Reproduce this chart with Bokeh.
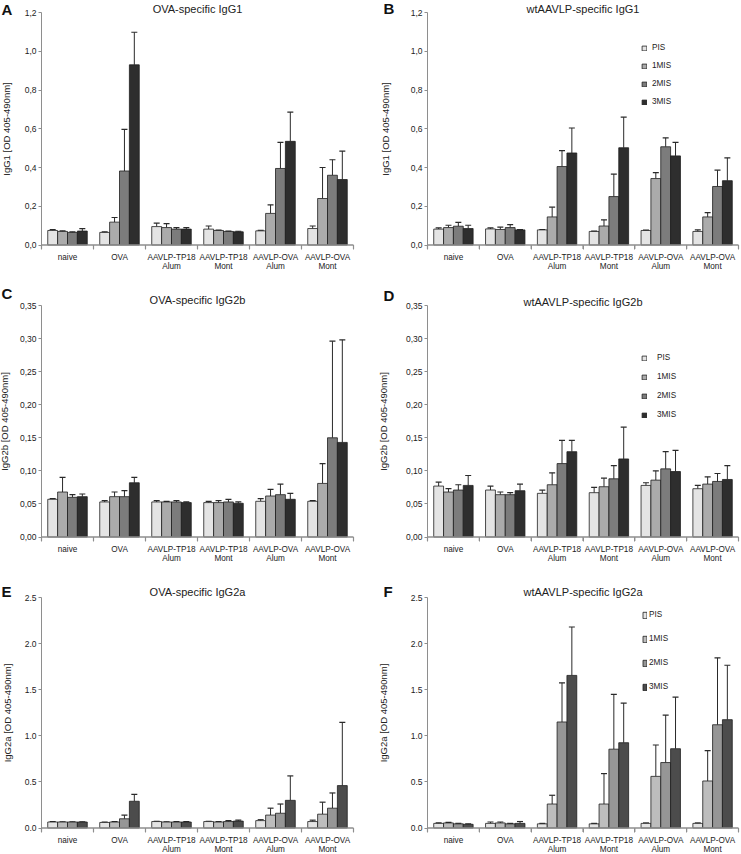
from bokeh.plotting import figure
from bokeh.models import (Range1d, FixedTicker, Label, Whisker, TeeHead,
                          ColumnDataSource, Legend, LegendItem)
from bokeh.layouts import column, row
from bokeh.embed import file_html
from bokeh.resources import INLINE

FONT = "Liberation Sans"

groups = ["naive", "OVA", "AAVLP-TP18\nAlum", "AAVLP-TP18\nMont",
          "AAVLP-OVA\nAlum", "AAVLP-OVA\nMont"]
series = ["PIS", "1MIS", "2MIS", "3MIS"]

# ---- Panel A : OVA-specific IgG1 ----
a_pis = [0.075, 0.065, 0.095, 0.082, 0.073, 0.085]
a_pis_err = [0.005, 0.003, 0.018, 0.016, 0.002, 0.013]
a_1mis = [0.070, 0.118, 0.090, 0.075, 0.163, 0.240]
a_1mis_err = [0.003, 0.024, 0.020, 0.002, 0.044, 0.160]
a_2mis = [0.065, 0.382, 0.082, 0.070, 0.395, 0.360]
a_2mis_err = [0.003, 0.215, 0.008, 0.002, 0.135, 0.080]
a_3mis = [0.072, 0.930, 0.082, 0.068, 0.535, 0.338]
a_3mis_err = [0.013, 0.168, 0.008, 0.003, 0.151, 0.147]

# ---- Panel B : wtAAVLP-specific IgG1 ----
b_pis = [0.082, 0.083, 0.078, 0.070, 0.075, 0.070]
b_pis_err = [0.006, 0.005, 0.002, 0.002, 0.002, 0.008]
b_1mis = [0.090, 0.080, 0.145, 0.098, 0.343, 0.145]
b_1mis_err = [0.012, 0.012, 0.050, 0.032, 0.031, 0.022]
b_2mis = [0.097, 0.090, 0.405, 0.250, 0.507, 0.302]
b_2mis_err = [0.020, 0.015, 0.082, 0.116, 0.046, 0.084]
b_3mis = [0.085, 0.078, 0.475, 0.502, 0.460, 0.332]
b_3mis_err = [0.017, 0.002, 0.129, 0.158, 0.070, 0.118]

# ---- Panel C : OVA-specific IgG2b ----
c_pis = [0.057, 0.053, 0.053, 0.052, 0.054, 0.054]
c_pis_err = [0.001, 0.002, 0.002, 0.002, 0.004, 0.001]
c_1mis = [0.068, 0.061, 0.053, 0.052, 0.062, 0.081]
c_1mis_err = [0.022, 0.007, 0.001, 0.003, 0.010, 0.030]
c_2mis = [0.060, 0.061, 0.053, 0.053, 0.064, 0.150]
c_2mis_err = [0.004, 0.009, 0.002, 0.004, 0.016, 0.146]
c_3mis = [0.061, 0.082, 0.052, 0.051, 0.057, 0.143]
c_3mis_err = [0.004, 0.008, 0.001, 0.002, 0.009, 0.155]

# ---- Panel D : wtAAVLP-specific IgG2b ----
d_pis = [0.077, 0.071, 0.066, 0.067, 0.078, 0.073]
d_pis_err = [0.006, 0.006, 0.005, 0.008, 0.004, 0.005]
d_1mis = [0.068, 0.064, 0.079, 0.076, 0.086, 0.080]
d_1mis_err = [0.005, 0.004, 0.018, 0.013, 0.014, 0.011]
d_2mis = [0.071, 0.064, 0.111, 0.088, 0.103, 0.084]
d_2mis_err = [0.008, 0.003, 0.035, 0.020, 0.026, 0.012]
d_3mis = [0.078, 0.070, 0.129, 0.118, 0.099, 0.087]
d_3mis_err = [0.015, 0.010, 0.017, 0.048, 0.032, 0.021]

# ---- Panel E : OVA-specific IgG2a ----
e_pis = [0.065, 0.060, 0.070, 0.070, 0.080, 0.070]
e_pis_err = [0.005, 0.005, 0.003, 0.003, 0.010, 0.015]
e_1mis = [0.065, 0.065, 0.065, 0.065, 0.140, 0.150]
e_1mis_err = [0.003, 0.005, 0.003, 0.005, 0.075, 0.130]
e_2mis = [0.065, 0.100, 0.065, 0.070, 0.160, 0.215]
e_2mis_err = [0.003, 0.040, 0.005, 0.010, 0.100, 0.165]
e_3mis = [0.065, 0.290, 0.065, 0.075, 0.300, 0.460]
e_3mis_err = [0.003, 0.075, 0.005, 0.010, 0.265, 0.685]

# ---- Panel F : wtAAVLP-specific IgG2a ----
f_pis = [0.050, 0.050, 0.045, 0.045, 0.050, 0.050]
f_pis_err = [0.005, 0.015, 0.005, 0.005, 0.005, 0.005]
f_1mis = [0.055, 0.055, 0.260, 0.260, 0.560, 0.510]
f_1mis_err = [0.005, 0.010, 0.095, 0.330, 0.340, 0.330]
f_2mis = [0.045, 0.045, 1.150, 0.855, 0.710, 1.120]
f_2mis_err = [0.005, 0.005, 0.425, 0.595, 0.515, 0.725]
f_3mis = [0.040, 0.050, 1.655, 0.925, 0.860, 1.175]
f_3mis_err = [0.005, 0.020, 0.525, 0.430, 0.560, 0.590]

# ---- axis ticks ----
igg1_ticks = [0.0, 0.2, 0.4, 0.6, 0.8, 1.0, 1.2]
igg1_labels = ["0,0", "0,2", "0,4", "0,6", "0,8", "1,0", "1,2"]
igg2b_ticks = [0.0, 0.05, 0.10, 0.15, 0.20, 0.25, 0.30, 0.35]
igg2b_labels = ["0,00", "0,05", "0,10", "0,15", "0,20", "0,25", "0,30", "0,35"]
igg2a_ticks = [0.0, 0.5, 1.0, 1.5, 2.0, 2.5]
igg2a_labels = ["0.0", "0.5", "1.0", "1.5", "2.0", "2.5"]

colors_1 = ["#e4e4e4", "#ababab", "#7c7c7c", "#2e2e2e"]
colors_2 = ["#e4e4e4", "#bdbdbd", "#969696", "#4c4c4c"]

AXIS_COL = "#8e8e8e"
TEXT_COL = "#222222"

# layout geometry (pixels): canvas width, x pixel where categories start / end
COLS = [dict(W=370, L=41, R=353), dict(W=370, L=57, R=368)]
# canvas height, pixel of the axis top (ymax) and of the zero line
ROWS = [dict(H=285, T=12, Y0=244.5), dict(H=281, T=20, Y0=251.5),
        dict(H=287, T=31, Y0=261.5)]
TICK_PX = 4


def make_panel(vals, errs, yticks, ylabels, title, letter, ylab, colors,
               col, rw, title_dy, letter_dx, letter_dy, ylab_standoff,
               legend=None):
    ymax = yticks[-1]
    n = len(groups)
    W, L, R = col["W"], col["L"], col["R"]
    H, T, Y0 = rw["H"], rw["T"], rw["Y0"]
    upx = n / (R - L)
    upy = ymax / (Y0 - T)
    p = figure(width=W, height=H, output_backend="svg",
               toolbar_location=None,
               x_range=Range1d(-L * upx, n + (W - R) * upx),
               y_range=Range1d(-(H - Y0) * upy, ymax + T * upy),
               min_border_left=0, min_border_right=0, min_border_top=0,
               min_border_bottom=0)
    p.outline_line_color = None
    p.xgrid.visible = False
    p.ygrid.visible = False
    p.background_fill_color = "white"
    p.border_fill_color = "white"

    bw = 0.19
    offsets = [-1.5 * bw, -0.5 * bw, 0.5 * bw, 1.5 * bw]
    renderers = []
    for k in range(4):
        xs = [i + 0.5 + offsets[k] for i in range(n)]
        src = ColumnDataSource(dict(x=xs, top=vals[k],
                                    upper=[v + e for v, e in zip(vals[k], errs[k])],
                                    lower=vals[k]))
        r = p.vbar(x="x", top="top", bottom=0, width=bw, source=src,
                   fill_color=colors[k], line_color="#1e1e1e", line_width=0.8)
        renderers.append(r)
        w = Whisker(source=src, base="x", upper="upper", lower="lower",
                    dimension="height", line_color="#2a2a2a", line_width=1,
                    upper_head=TeeHead(size=6, line_color="#2a2a2a", line_width=1.2),
                    lower_head=None)
        p.add_layout(w)

    # category axis: base line and group-boundary ticks
    bounds_x = [float(i) for i in range(n + 1)]
    p.segment(x0=[0], y0=[0], x1=[n], y1=[0], line_color=AXIS_COL, line_width=1.3)
    p.segment(x0=bounds_x, y0=[0] * (n + 1), x1=bounds_x,
              y1=[-TICK_PX * upy] * (n + 1), line_color=AXIS_COL, line_width=1.2)

    # y axis, placed at x = 0 and limited to 0..ymax
    ya = p.yaxis[0]
    ya.fixed_location = 0
    ya.bounds = (0, ymax)
    ya.ticker = FixedTicker(ticks=yticks, minor_ticks=[])
    ya.major_label_overrides = dict(zip(yticks, ylabels))
    ya.axis_line_color = AXIS_COL
    ya.major_tick_line_color = AXIS_COL
    ya.major_tick_out = 3
    ya.major_tick_in = 0
    ya.minor_tick_line_color = None
    ya.major_label_standoff = 2
    ya.major_label_text_font = FONT
    ya.major_label_text_font_size = "8.5px"
    ya.major_label_text_color = TEXT_COL
    ya.axis_label = ylab
    ya.axis_label_text_font = FONT
    ya.axis_label_text_font_size = "9.5px"
    ya.axis_label_text_font_style = "normal"
    ya.axis_label_text_color = TEXT_COL
    ya.axis_label_standoff = ylab_standoff

    # x axis at y = 0: category labels at group centres
    centres = [i + 0.5 for i in range(n)]
    xa = p.xaxis[0]
    xa.fixed_location = 0
    xa.ticker = FixedTicker(ticks=centres, minor_ticks=bounds_x)
    xa.major_label_overrides = dict(zip(centres, groups))
    xa.axis_line_color = None
    xa.major_tick_line_color = None
    xa.major_tick_out = 0
    xa.major_tick_in = 0
    xa.minor_tick_line_color = AXIS_COL
    xa.minor_tick_out = TICK_PX
    xa.minor_tick_in = 0
    xa.major_label_standoff = 4
    xa.major_label_text_font = FONT
    xa.major_label_text_font_size = "8.2px"
    xa.major_label_text_color = TEXT_COL
    xa.major_label_text_line_height = 1.0

    p.add_layout(Label(x=n / 2, y=ymax, x_units="data", y_units="data",
                       y_offset=title_dy, text=title, text_align="center",
                       text_baseline="middle", text_font=FONT,
                       text_font_size="11px", text_color=TEXT_COL))
    p.add_layout(Label(x=0, y=ymax, x_units="data", y_units="data",
                       x_offset=letter_dx, y_offset=letter_dy, text=letter,
                       text_align="left", text_baseline="middle",
                       text_font=FONT, text_font_size="15px",
                       text_font_style="bold", text_color="#111111"))

    if legend is not None:
        lx, ly, gw, gh, spacing, standoff = legend
        items = [LegendItem(label=s, renderers=[r]) for s, r in zip(series, renderers)]
        lg = Legend(items=items, location=(lx, ly), orientation="vertical",
                    glyph_width=gw, glyph_height=gh, spacing=spacing,
                    label_standoff=standoff, label_height=gh, padding=0,
                    margin=0, border_line_color=None,
                    background_fill_alpha=0,
                    label_text_font=FONT, label_text_font_size="8.2px",
                    label_text_color=TEXT_COL)
        p.add_layout(lg)
    return p


ylab1 = "IgG1 [OD 405-490nm]"
ylab2b = "IgG2b [OD 405-490nm]"
ylab2a = "IgG2a [OD 405-490nm]"

pA = make_panel([a_pis, a_1mis, a_2mis, a_3mis],
                [a_pis_err, a_1mis_err, a_2mis_err, a_3mis_err],
                igg1_ticks, igg1_labels, "OVA-specific IgG1", "A", ylab1, colors_1,
                COLS[0], ROWS[0], 4, -40, 3, 10)
pB = make_panel([b_pis, b_1mis, b_2mis, b_3mis],
                [b_pis_err, b_1mis_err, b_2mis_err, b_3mis_err],
                igg1_ticks, igg1_labels, "wtAAVLP-specific IgG1", "B", ylab1, colors_1,
                COLS[1], ROWS[0], 4, -44, 4, 17,
                legend=(271, 179, 6, 6, 9, 5))
pC = make_panel([c_pis, c_1mis, c_2mis, c_3mis],
                [c_pis_err, c_1mis_err, c_2mis_err, c_3mis_err],
                igg2b_ticks, igg2b_labels, "OVA-specific IgG2b", "C", ylab2b, colors_1,
                COLS[0], ROWS[1], 6, -40, 12, 7)
pD = make_panel([d_pis, d_1mis, d_2mis, d_3mis],
                [d_pis_err, d_1mis_err, d_2mis_err, d_3mis_err],
                igg2b_ticks, igg2b_labels, "wtAAVLP-specific IgG2b", "D", ylab2b, colors_1,
                COLS[1], ROWS[1], 4, -44, 10, 14,
                legend=(271, 147, 6, 6, 10, 10))
pE = make_panel([e_pis, e_1mis, e_2mis, e_3mis],
                [e_pis_err, e_1mis_err, e_2mis_err, e_3mis_err],
                igg2a_ticks, igg2a_labels, "OVA-specific IgG2a", "E", ylab2a, colors_2,
                COLS[0], ROWS[2], 6, -40, 6, 9)
pF = make_panel([f_pis, f_1mis, f_2mis, f_3mis],
                [f_pis_err, f_1mis_err, f_2mis_err, f_3mis_err],
                igg2a_ticks, igg2a_labels, "wtAAVLP-specific IgG2a", "F", ylab2a, colors_2,
                COLS[1], ROWS[2], 6, -44, 6, 19,
                legend=(272, 162, 5, 8, 15, 2))

layout = column(row(pA, pB), row(pC, pD), row(pE, pF))
open("out.html", "w").write(file_html(layout, INLINE))
